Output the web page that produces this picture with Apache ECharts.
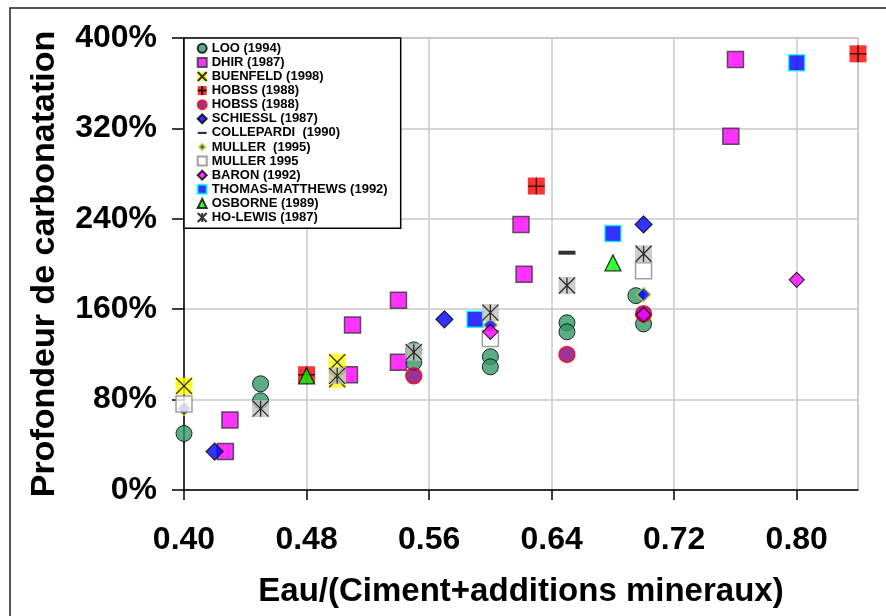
<!DOCTYPE html>
<html>
<head>
<meta charset="utf-8">
<script src="https://cdn.jsdelivr.net/npm/echarts@6/dist/echarts.min.js"></script>
<style>html,body{margin:0;padding:0;background:#fff}#c{width:886px;height:616px}</style>
</head>
<body>
<div id="c"></div>
<script>
// ---- data (x = Eau/(Ciment+additions), y = profondeur %) ----
const xTicks = [0.40, 0.48, 0.56, 0.64, 0.72, 0.80];
const yTicks = [0, 80, 160, 240, 320, 400];
const seriesNames = ['LOO (1994)','DHIR (1987)','BUENFELD (1998)','HOBSS (1988)','HOBSS (1988) ','SCHIESSL (1987)','COLLEPARDI  (1990)','MULLER  (1995)','MULLER 1995','BARON (1992)','THOMAS-MATTHEWS (1992)','OSBORNE (1989)','HO-LEWIS (1987)'];
const loo = [[0.40,50],[0.45,94],[0.45,79],[0.55,124],[0.55,113],[0.60,118],[0.60,109],[0.65,148],[0.65,140],[0.695,172],[0.70,147]];
const dhir = [[0.427,34],[0.43,62],[0.51,146],[0.508,102],[0.54,168],[0.54,113],[0.62,235],[0.622,191],[0.76,381],[0.757,313]];
const buenfeld = [[0.40,92],[0.50,113],[0.50,98]];
const hobssA = [[0.48,102],[0.63,269],[0.84,386]];
const hobssB = [[0.55,101],[0.65,120],[0.70,156]];
const schiessl = [[0.42,34],[0.57,151],[0.70,235]];
const collepardi = [[0.65,210]];
const mullerA = [[0.40,72],[0.60,146],[0.70,173]];
const mullerB = [[0.40,76],[0.60,134],[0.70,194]];
const baron = [[0.60,140],[0.70,155],[0.80,186]];
const thomas = [[0.59,151],[0.68,227],[0.80,378]];
const osborne = [[0.48,101],[0.68,201]];
const hoLewis = [[0.45,72],[0.50,101],[0.55,122],[0.60,157],[0.65,181],[0.70,209]];

const FONT = '"Liberation Sans", Arial, sans-serif';
const P_X = 'path://M0,0L10,10M0,10L10,0';
const P_PLUS = 'path://M5,0L5,10M0,5L10,5';
const P_AST = 'path://M0,0L10,10M0,10L10,0M5,0L5,10';
const lineStyleOverlay = {color:'rgba(0,0,0,0)', borderColor:'#000', borderWidth:1.3};

function sc(name, data, symbol, size, itemStyle) {
  return {type:'scatter', name, data, symbol, symbolSize:size, itemStyle, emphasis:{disabled:true}};
}

const series = [
  sc(seriesNames[0], loo, 'circle', 16, {color:'#339966', borderColor:'#000', borderWidth:1}),
  sc(seriesNames[1], dhir, 'rect', 16, {color:'#FF00FF', borderColor:'#333', borderWidth:1.5}),
  sc(seriesNames[2], buenfeld, 'rect', 17, {color:'#FFFF00', borderWidth:0}),
  sc('BUENFELD (1998) X', buenfeld, P_X, 16, lineStyleOverlay),
  sc(seriesNames[3], hobssA, 'rect', 17, {color:'#FF0000', borderWidth:0}),
  sc('HOBSS (1988) +', hobssA, P_PLUS, 17, lineStyleOverlay),
  sc(seriesNames[4], hobssB, 'circle', 16, {color:'#800080', borderColor:'#FF0000', borderWidth:1.5}),
  sc(seriesNames[5], schiessl, 'diamond', 17, {color:'#0000FF', borderColor:'#000', borderWidth:1.2}),
  sc(seriesNames[6], collepardi, 'rect', [17,4], {color:'#000'}),
  sc(seriesNames[7], mullerA, 'diamond', 14, {color:'#0000FF', borderColor:'#C8D800', borderWidth:1.5}),
  sc(seriesNames[8], mullerB, 'rect', 16, {color:'#FFFFFF', borderColor:'#888', borderWidth:1.5}),
  sc(seriesNames[9], baron, 'diamond', 15, {color:'#FF00FF', borderColor:'#000', borderWidth:1.2}),
  sc(seriesNames[10], thomas, 'rect', 16, {color:'#0000FF', borderColor:'#00FFFF', borderWidth:1.5}),
  sc(seriesNames[11], osborne, 'triangle', 16, {color:'#00FF00', borderColor:'#000', borderWidth:1.2}),
  sc('HO-LEWIS bg', hoLewis, 'rect', 17, {color:'#C0C0C0', borderWidth:0}),
  sc(seriesNames[12], hoLewis, P_AST, 16, lineStyleOverlay)
];

const ROW = 14.1;
const legendBase = {
  orient:'vertical', left:184, itemWidth:9, itemHeight:9, itemGap:0.1,
  textStyle:{fontFamily:FONT, fontSize:13, fontWeight:'bold', color:'#000', lineHeight:14},
  formatter: n => n.replace(/\s+$/,''),
  selectedMode:false
};

const option = {
  animation:false,
  backgroundColor:'#fff',
  grid:{left:184, top:38, right:28, bottom:126, show:true, borderColor:'#999', borderWidth:1},
  legend:[
    Object.assign({}, legendBase, {
      top:38, padding:[3.3,13,3.7,12.7], backgroundColor:'#fff', borderColor:'#000', borderWidth:1.5,
      data: seriesNames.map(n => n === 'COLLEPARDI  (1990)'
        ? {name:n, icon:'path://M0,0M10,10M0,3.8L10,3.8L10,6.2L0,6.2Z'}
        : n === 'MULLER  (1995)' ? {name:n, icon:'path://M0,0M10,10M5,1.5L8.5,5L5,8.5L1.5,5Z'} : n)
    }),
    Object.assign({}, legendBase, {top:38 + 2*ROW, padding:[3.3,0,0,12.7], data:['BUENFELD (1998) X'], formatter:() => ' '}),
    Object.assign({}, legendBase, {top:38 + 3*ROW, padding:[3.3,0,0,12.7], data:['HOBSS (1988) +'], formatter:() => ' '})
  ],
  xAxis:{
    type:'value', min:0.40, max:0.84, interval:0.04,
    name:'Eau/(Ciment+additions mineraux)', nameLocation:'middle', nameGap:85,
    nameTextStyle:{fontFamily:FONT, fontSize:33, fontWeight:'bold', color:'#000'},
    axisLine:{lineStyle:{color:'#000', width:1.5}},
    axisTick:{show:true, customValues:xTicks, length:10, lineStyle:{color:'#000', width:1.5}},
    axisLabel:{customValues:xTicks, formatter:v => v.toFixed(2), fontFamily:FONT, fontSize:32, fontWeight:'bold', color:'#000', margin:34},
    splitLine:{show:true, lineStyle:{color:'#c8c8c8', width:1.5}}
  },
  yAxis:{
    type:'value', min:0, max:400, interval:40,
    name:'Profondeur de carbonatation', nameLocation:'middle', nameGap:122,
    nameTextStyle:{fontFamily:FONT, fontSize:34, fontWeight:'bold', color:'#000'},
    axisLine:{show:true, lineStyle:{color:'#000', width:1.5}},
    axisTick:{show:true, customValues:yTicks, length:12, lineStyle:{color:'#000', width:1.5}},
    axisLabel:{customValues:yTicks, formatter:v => v + '%', fontFamily:FONT, fontSize:32, fontWeight:'bold', color:'#000', margin:27},
    splitLine:{show:true, lineStyle:{color:'#c8c8c8', width:1.5}}
  },
  graphic:[{type:'rect', shape:{x:10, y:8, width:900, height:640}, style:{fill:'none', stroke:'#222', lineWidth:1.5}, silent:true, z:-1}],
  series
};
const chart = echarts.init(document.getElementById('c'), null, {renderer:'canvas'});
chart.setOption(option);
</script>
</body>
</html>
